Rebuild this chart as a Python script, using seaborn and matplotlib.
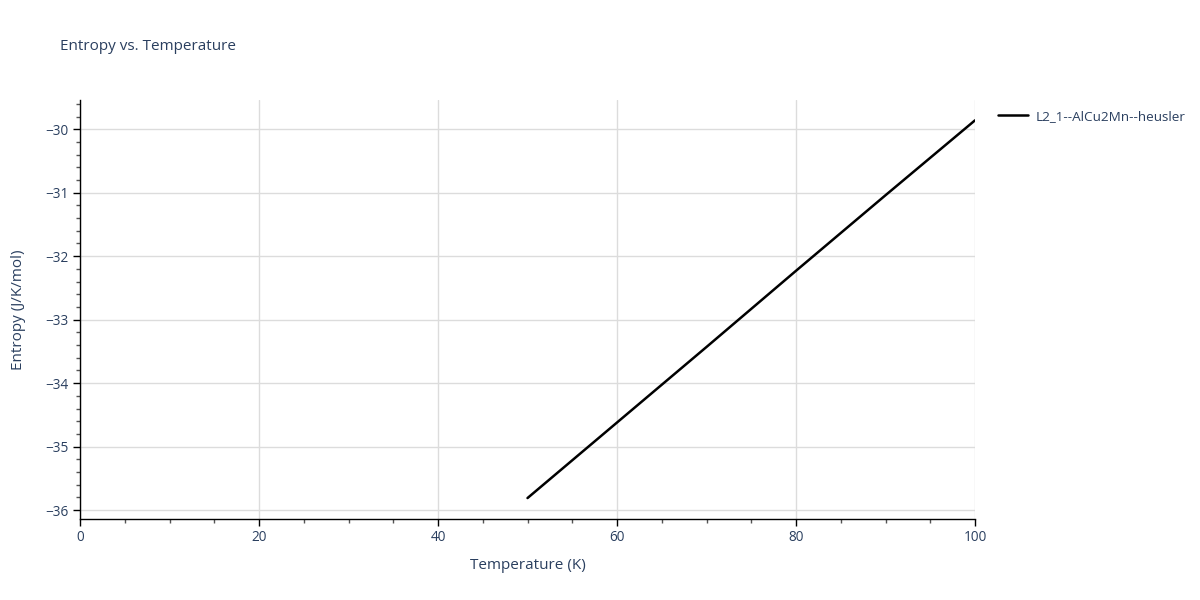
import pandas as pd
import matplotlib.pyplot as plt
import seaborn as sns
from matplotlib.ticker import MultipleLocator

# datos
temperatura = [50, 60, 70, 80, 90, 100]
entropia = [-35.81, -34.62, -33.43, -32.23, -31.04, -29.86]
serie = 'L2_1--AlCu2Mn--heusler'

df = pd.DataFrame({'Temperature (K)': temperatura,
                   'Entropy (J/K/mol)': entropia,
                   'serie': serie})

sns.set_style('white')
plt.rcParams['font.family'] = ['Open Sans', 'DejaVu Sans']
color_texto = '#2a3f5f'

fig = plt.figure(figsize=(12, 6), dpi=100)
ax = fig.add_axes([0.0667, 0.135, 0.7458, 0.6983])

sns.lineplot(data=df, x='Temperature (K)', y='Entropy (J/K/mol)', hue='serie',
             palette=['black'], linewidth=1.8, ax=ax)

ax.set_xlim(0, 100)
ax.set_ylim(-36.14, -29.54)
ax.xaxis.set_major_locator(MultipleLocator(20))
ax.xaxis.set_minor_locator(MultipleLocator(5))
ax.yaxis.set_major_locator(MultipleLocator(1))
ax.yaxis.set_minor_locator(MultipleLocator(0.2))
ax.grid(True, which='major', color='#dcdcdc', linewidth=1)
ax.set_axisbelow(True)

for lado in ['top', 'right']:
    ax.spines[lado].set_visible(False)
for lado in ['left', 'bottom']:
    ax.spines[lado].set_color('black')
    ax.spines[lado].set_linewidth(1)

ax.tick_params(which='both', bottom=True, left=True)
ax.tick_params(which='major', direction='out', length=5, width=1, color='black',
               labelsize=9.8, labelcolor=color_texto, pad=3)
ax.tick_params(which='minor', direction='out', length=3, width=1, color='#555555')
ax.set_yticklabels([f'\u2212{abs(int(v))}' for v in ax.get_yticks()])

ax.set_xlabel('Temperature (K)', fontsize=11, color=color_texto, labelpad=9)
ax.set_ylabel('Entropy (J/K/mol)', fontsize=11, color=color_texto, labelpad=14)
fig.text(0.05, 0.922, 'Entropy vs. Temperature', fontsize=11, color=color_texto,
         va='center', ha='left')

ax.legend(loc='upper left', bbox_to_anchor=(1.012, 1.005), frameon=False,
          fontsize=9.7, labelcolor=color_texto, handlelength=2.2, handletextpad=0.6)

fig.savefig('out.png', dpi=100)
